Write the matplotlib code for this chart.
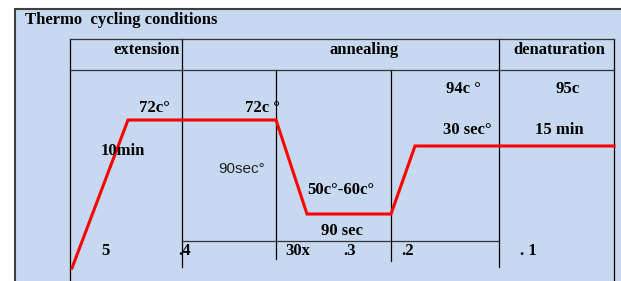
import matplotlib
matplotlib.use("Agg")
import matplotlib.pyplot as plt

# ------------------------------
# DATA (diagram coordinates in pixels, y grows downward)
# ------------------------------
profile_x = [72, 128, 276, 307, 391, 415, 614]
profile_y = [268, 120, 120, 214, 214, 146, 146]

headers = ["extension", "annealing", "denaturation"]
header_x = [113, 330, 513]

labels = ["72c°", "72c °", "94c °", "95c", "30 sec°", "15 min", "10min",
          "50c°-60c°", "90 sec", "5", ".4", "30x", ".3", ".2", ". 1"]
label_x = [139, 245, 446, 555, 443, 535, 101, 307, 321, 101, 178, 285, 343, 401, 520]
label_y = [108, 108, 89, 89, 130, 130, 151, 190, 231, 251, 251, 251, 251, 251, 251]

# table rules: (x, y_top, y_bottom)
vlines = [(70, 39, 281), (182, 39, 267), (499, 39, 267), (276, 70, 259),
          (391, 70, 261), (614, 39, 281)]
# (y, x_left, x_right)
hlines = [(39, 70, 614), (70, 70, 614), (241, 182, 499)]

bg_color = "#c6d9f1"
serif = "Liberation Serif"

fig = plt.figure(figsize=(6.21, 2.81), dpi=100)
ax = fig.add_axes([0, 0, 1, 1])
ax.set_xlim(0, 621)
ax.set_ylim(281, 0)
ax.axis("off")

# outer panel
ax.add_patch(plt.Rectangle((15, 9), 640, 300, facecolor=bg_color,
                           edgecolor="#404040", linewidth=1.5))

for x, y0, y1 in vlines:
    ax.plot([x, x], [y0, y1], color="black", linewidth=0.9)
for y, x0, x1 in hlines:
    ax.plot([x0, x1], [y, y], color="#333333", linewidth=0.9)

ax.plot(profile_x, profile_y, color="red", linewidth=2.2, solid_joinstyle="miter")

ax.text(25, 20, "Thermo  cycling conditions", fontsize=12, fontweight="bold",
        family=serif, ha="left", va="center")

for h, x in zip(headers, header_x):
    ax.text(x, 50, h, fontsize=12, fontweight="bold", family=serif,
            ha="left", va="center")

for t, x, y in zip(labels, label_x, label_y):
    ax.text(x, y, t, fontsize=12, fontweight="bold", family=serif,
            ha="left", va="center")

ax.text(218, 169, "90sec°", fontsize=11, family="Liberation Sans",
        color="#222222", ha="left", va="center")

fig.savefig("out.png", dpi=100)
